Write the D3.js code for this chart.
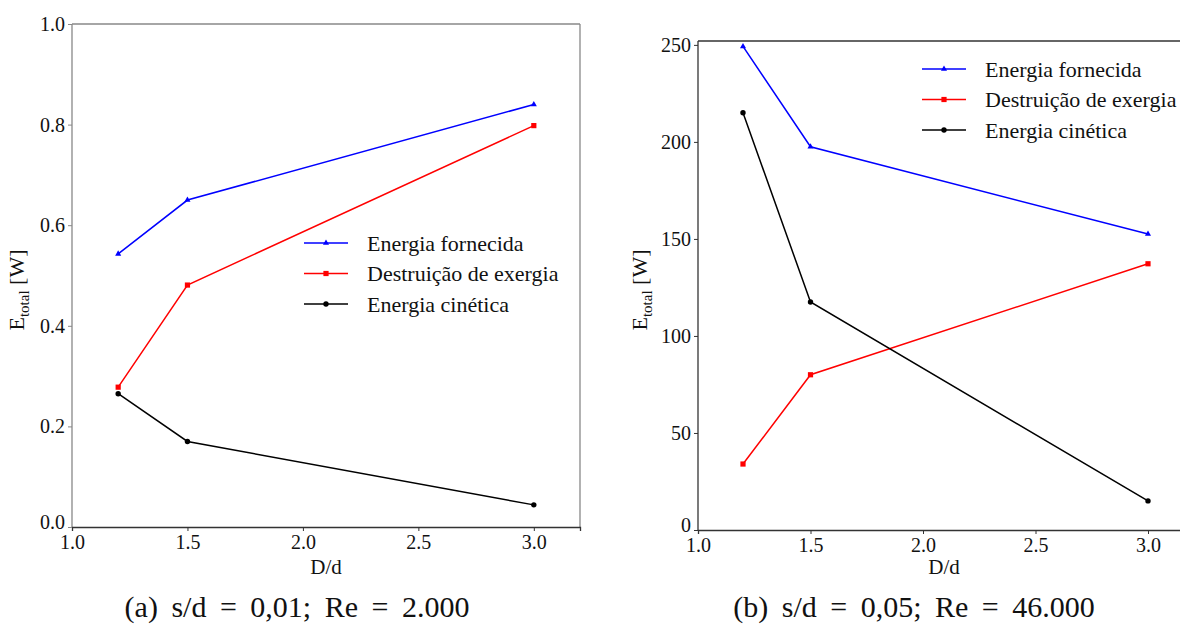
<!DOCTYPE html>
<html><head><meta charset="utf-8">
<script src="https://cdn.jsdelivr.net/npm/d3@7"></script>
<style>body{margin:0;background:#fff}svg{display:block}text{font-family:"Liberation Serif","Times New Roman",Times,"DejaVu Serif",serif !important;fill:#111}</style>
</head><body>
<script>
const xValues = [1.2, 1.5, 3.0];
const seriesNames = ["Energia fornecida", "Destruição de exergia", "Energia cinética"];
const seriesColors = ["#0000ff", "#ff0000", "#000000"];
const seriesMarkers = ["triangle", "square", "circle"];
// panel (a)
const aFornecida = [0.543, 0.650, 0.840];
const aDestruicao = [0.278, 0.481, 0.798];
const aCinetica = [0.265, 0.170, 0.044];
const aXTicks = [1.0, 1.5, 2.0, 2.5, 3.0];
const aYTicks = [0.0, 0.2, 0.4, 0.6, 0.8, 1.0];
// panel (b)
const bFornecida = [249.2, 197.5, 152.5];
const bDestruicao = [34.0, 80.0, 137.2];
const bCinetica = [215.0, 117.5, 15.0];
const bXTicks = [1.0, 1.5, 2.0, 2.5, 3.0];
const bYTicks = [0, 50, 100, 150, 200, 250];
const captions = ["(a) s/d = 0,01; Re = 2.000", "(b) s/d = 0,05; Re = 46.000"];

const svg = d3.select("body").append("svg").attr("width", 1180).attr("height", 631);

const panels = [
  {series:[aFornecida,aDestruicao,aCinetica], xd:[1,3.2], xr:[72,580], yd:[0,1], yr:[527,24],
   xt:aXTicks, yt:aYTicks, yfmt:d3.format(".1f"), spine:"#888", bottom:"#333", rightSpine:true,
   legend:{x:304, y:243}, ylab:{x:24, y:290}, xlab:{x:326,y:574}, cap:{x:297,y:617,t:captions[0]}},
  {series:[bFornecida,bDestruicao,bCinetica], xd:[1,3.2], xr:[698,1193], yd:[0,252], yr:[530,41],
   xt:bXTicks, yt:bYTicks, yfmt:d3.format("d"), spine:"#333", bottom:"#333", rightSpine:false,
   legend:{x:922, y:69}, ylab:{x:647, y:290}, xlab:{x:944,y:574}, cap:{x:914,y:617,t:captions[1]}}
];

function marker(g, type, color, x, y) {
  if (type === "triangle") g.append("path").attr("d", d3.symbol(d3.symbolTriangle, 16)()).attr("transform", `translate(${x},${y})`).attr("fill", color);
  else if (type === "square") g.append("rect").attr("x", x-2.6).attr("y", y-2.6).attr("width", 5.2).attr("height", 5.2).attr("fill", color);
  else g.append("circle").attr("cx", x).attr("cy", y).attr("r", 2.7).attr("fill", color);
}

panels.forEach(p => {
  const x = d3.scaleLinear().domain(p.xd).range(p.xr);
  const y = d3.scaleLinear().domain(p.yd).range(p.yr);
  const g = svg.append("g");
  g.append("line").attr("x1", p.xr[0]).attr("x2", p.xr[0]).attr("y1", p.yr[0]).attr("y2", p.yr[1]).attr("stroke", p.spine).attr("stroke-width", 1.3);
  g.append("line").attr("x1", p.xr[0]).attr("x2", p.xr[1]).attr("y1", p.yr[1]).attr("y2", p.yr[1]).attr("stroke", p.spine).attr("stroke-width", 1.3);
  if (p.rightSpine) g.append("line").attr("x1", p.xr[1]).attr("x2", p.xr[1]).attr("y1", p.yr[0]).attr("y2", p.yr[1]).attr("stroke", p.spine).attr("stroke-width", 1.3);
  const xa = g.append("g").attr("transform", `translate(0,${p.yr[0]})`)
    .call(d3.axisBottom(x).tickValues(p.xt).tickFormat(d3.format(".1f")).tickSize(4).tickPadding(4));
  xa.attr("font-family", null).attr("font-size", null);
  xa.select(".domain").attr("stroke", p.bottom).attr("stroke-width", 1.3);
  xa.selectAll(".tick line").attr("stroke", p.bottom);
  xa.selectAll("text").attr("font-size", 20).attr("fill", "#111");
  const ya = g.append("g").attr("transform", `translate(${p.xr[0]},0)`)
    .call(d3.axisLeft(y).tickValues(p.yt).tickFormat(p.yfmt).tickSize(4).tickPadding(3));
  ya.attr("font-family", null).attr("font-size", null);
  ya.select(".domain").remove();
  ya.selectAll(".tick line").attr("stroke", p.spine);
  ya.selectAll("text").attr("font-size", 20).attr("fill", "#111").attr("dy", d => d === 0 ? "0.05em" : "0.32em");
  const line = d3.line().x((d,i) => x(xValues[i])).y(d => y(d));
  p.series.forEach((s, k) => {
    g.append("path").datum(s).attr("d", line).attr("fill", "none").attr("stroke", seriesColors[k]).attr("stroke-width", 1.5);
    s.forEach((v, i) => marker(g, seriesMarkers[k], seriesColors[k], x(xValues[i]), y(v)));
  });
  seriesNames.forEach((n, k) => {
    const ly = p.legend.y + k*30.5;
    g.append("line").attr("x1", p.legend.x).attr("x2", p.legend.x+44).attr("y1", ly).attr("y2", ly).attr("stroke", seriesColors[k]).attr("stroke-width", 1.5);
    marker(g, seriesMarkers[k], seriesColors[k], p.legend.x+22, ly);
    g.append("text").attr("x", p.legend.x+63).attr("y", ly+7.5).attr("font-size", 22).text(n);
  });
  g.append("text").attr("x", p.xlab.x).attr("y", p.xlab.y).attr("text-anchor", "middle").attr("font-size", 21).text("D/d");
  const yl = g.append("text").attr("transform", `translate(${p.ylab.x},${p.ylab.y}) rotate(-90)`).attr("text-anchor", "middle").attr("font-size", 22);
  yl.append("tspan").text("E");
  yl.append("tspan").attr("font-size", 15).attr("dy", 5).text("total");
  yl.append("tspan").attr("dy", -5).text(" [W]");
  g.append("text").attr("x", p.cap.x).attr("y", p.cap.y).attr("text-anchor", "middle").attr("font-size", 30).attr("word-spacing", 6).attr("fill", "#222").text(p.cap.t);
});
</script>
</body></html>
